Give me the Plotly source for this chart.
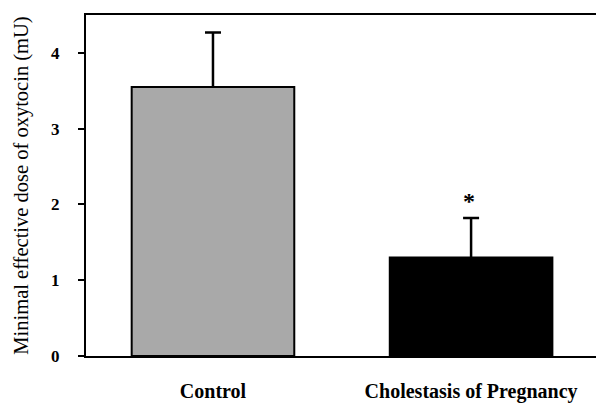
import plotly.graph_objects as go

categories = ["Control", "Cholestasis of Pregnancy"]
means = [3.55, 1.30]
errors_up = [0.72, 0.52]
bar_colors = ["#a9a9a9", "#000000"]
y_ticks = [0, 1, 2, 3, 4]
sig_marks = ["", "*"]

x_pos = list(range(len(categories)))
serif = "Liberation Serif, Times New Roman, serif"

fig = go.Figure()
# error bars (drawn first, lower half hidden under the bars)
fig.add_trace(go.Bar(
    x=x_pos, y=means, width=0.63,
    marker=dict(color="rgba(0,0,0,0)", line=dict(width=0)),
    error_y=dict(type="data", array=errors_up, color="black", thickness=2.5, width=8),
    showlegend=False, hoverinfo="skip",
))
fig.add_trace(go.Bar(
    x=x_pos, y=means, width=0.63,
    marker=dict(color=bar_colors, line=dict(color="black", width=2)),
    showlegend=False,
))

for xi, m, e, s in zip(x_pos, means, errors_up, sig_marks):
    if s:
        fig.add_annotation(x=xi, y=m + e, text=s, showarrow=False,
                           yanchor="bottom", yshift=2, xshift=-2,
                           font=dict(family=serif, size=24, color="black", weight="bold"))

fig.update_layout(
    width=596, height=403,
    barmode="overlay",
    margin=dict(l=86, r=0, t=15, b=45),
    plot_bgcolor="white", paper_bgcolor="white",
    xaxis=dict(
        range=[-0.492, 1.484],
        tickvals=x_pos, ticktext=categories,
        showline=True, linecolor="black", linewidth=2, mirror=True,
        ticks="", showgrid=False, zeroline=False,
        tickfont=dict(family=serif, size=20, color="black", weight="bold"),
        ticklabelstandoff=16,
    ),
    yaxis=dict(
        range=[0, 4.5],
        tickvals=y_ticks,
        showline=True, linecolor="black", linewidth=2,
        ticks="outside", ticklen=6, tickwidth=2, tickcolor="black",
        showgrid=False, zeroline=False,
        tickfont=dict(family=serif, size=17, color="black", weight="bold"),
        ticklabelstandoff=15,
        title=dict(text="Minimal effective dose of oxytocin (mU)",
                   font=dict(family=serif, size=20.5, color="black"),
                   standoff=17),
    ),
)

fig.write_html("out.html", config={"displayModeBar": False},
               post_script="document.body.style.margin='0';")
